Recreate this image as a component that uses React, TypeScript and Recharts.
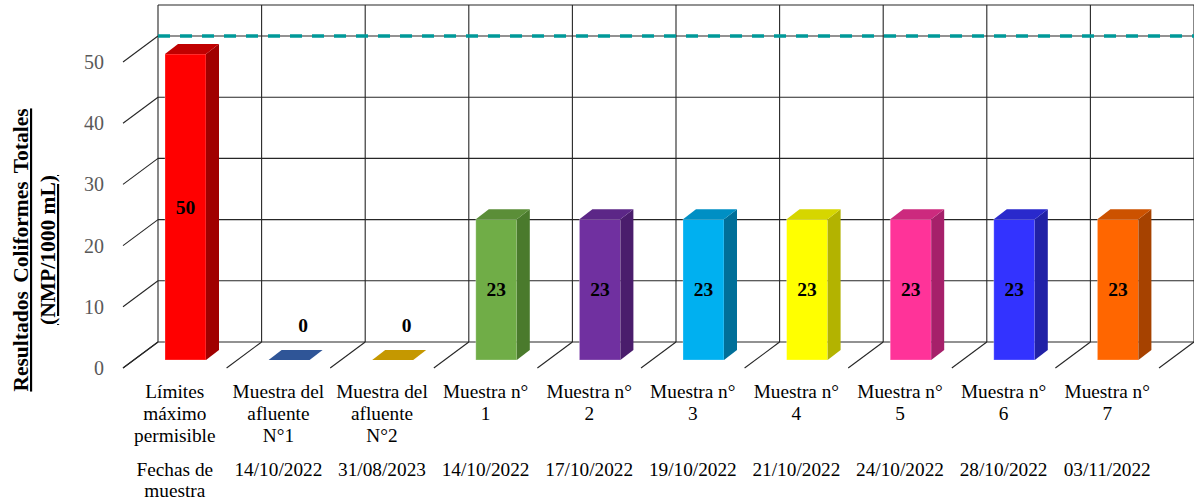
import { BarChart, Bar, XAxis, YAxis, CartesianGrid, ReferenceLine, LabelList, Cell } from 'recharts';

document.body.style.margin = '0';

const categories = [
  'Límites\nmáximo\npermisible',
  'Muestra del\nafluente\nN°1',
  'Muestra del\nafluente\nN°2',
  'Muestra n°\n1',
  'Muestra n°\n2',
  'Muestra n°\n3',
  'Muestra n°\n4',
  'Muestra n°\n5',
  'Muestra n°\n6',
  'Muestra n°\n7',
];
const fechas = [
  'Fechas de\nmuestra',
  '14/10/2022',
  '31/08/2023',
  '14/10/2022',
  '17/10/2022',
  '19/10/2022',
  '21/10/2022',
  '24/10/2022',
  '28/10/2022',
  '03/11/2022',
];
const valores = [50, 0, 0, 23, 23, 23, 23, 23, 23, 23];
const yTicks = [0, 10, 20, 30, 40, 50];
const limite = 50;

// front / side / top colours per bar
const colores = [
  ['#FF0000', '#A00000', '#C00000'],
  ['#2F5597', '#24447A', '#2F5597'],
  ['#BF9000', '#8F6C00', '#C59800'],
  ['#70AD47', '#4A7A2C', '#5B8E38'],
  ['#7030A0', '#4A1D6C', '#5C2787'],
  ['#00B0F0', '#006F99', '#008FC4'],
  ['#FFFF00', '#B3B300', '#D6D600'],
  ['#FF3399', '#A6206A', '#CC2A7E'],
  ['#3333FF', '#2121A6', '#2929CC'],
  ['#FF6600', '#A64200', '#CC5200'],
];

const data = categories.map((name, i) => ({ name, value: valores[i], fecha: fechas[i] }));

const W = 1194;
const H = 501;
const WALL_LEFT = 158;
const WALL_TOP = 5;
const WALL_BOTTOM = 342;
const BAND = (W - WALL_LEFT) / categories.length;
const Y_MAX = 55.07; // wall top, above the 50 line
// depth offsets
const AX_DX = -35;
const AX_DY = 26;
const BAR_DX = -24;
const BAR_DY = 18;
const SIDE_DX = 13;
const SIDE_DY = -10;

const serif = '"Liberation Serif", "Times New Roman", serif';
const gridColor = '#262626';

function Bar3D(props: any) {
  const { x, y, width, height, index } = props;
  const [front, side, top] = colores[index];
  const fx = x + BAR_DX;
  const fy = y + BAR_DY;
  const h = Math.max(0, height);
  return (
    <g>
      {h > 0 && <rect x={fx} y={fy} width={width} height={h} fill={front} stroke="rgba(255,255,255,0.35)" strokeWidth={0.8} />}
      {h > 0 && (
        <polygon
          points={`${fx + width},${fy} ${fx + width + SIDE_DX},${fy + SIDE_DY} ${fx + width + SIDE_DX},${fy + h + SIDE_DY} ${fx + width},${fy + h}`}
          fill={side}
        />
      )}
      <polygon
        points={`${fx},${fy} ${fx + SIDE_DX},${fy + SIDE_DY} ${fx + width + SIDE_DX},${fy + SIDE_DY} ${fx + width},${fy}`}
        fill={top}
      />
    </g>
  );
}

function ValueLabel(props: any) {
  const { x, y, width, height, value } = props;
  const cx = x + width / 2 + BAR_DX;
  let cy = y + height / 2 + BAR_DY;
  let tx = cx;
  if (!value) {
    tx = cx + 14;
    cy = y + BAR_DY - 35;
  }
  return (
    <text x={tx} y={cy} textAnchor="middle" dominantBaseline="central" fontFamily={serif} fontWeight="bold" fontSize={19.5} fill="#000">
      {value}
    </text>
  );
}

function CatTick(props: any) {
  const { x, index } = props;
  const lines = categories[index].split('\n');
  const fl = fechas[index].split('\n');
  const cx = x + AX_DX;
  const left = x - BAND / 2;
  return (
    <g>
      <line x1={left} y1={WALL_BOTTOM} x2={left + AX_DX} y2={WALL_BOTTOM + AX_DY} stroke={gridColor} strokeWidth={1.1} />
      {index === categories.length - 1 && (
        <line x1={left + BAND} y1={WALL_BOTTOM} x2={left + BAND + AX_DX} y2={WALL_BOTTOM + AX_DY} stroke={gridColor} strokeWidth={1.1} />
      )}
      <text textAnchor="middle" fontFamily={serif} fontSize={19.3} fill="#000">
        {lines.map((l, i) => (
          <tspan key={i} x={cx} y={398 + i * 22}>
            {l}
          </tspan>
        ))}
      </text>
      <text textAnchor="middle" fontFamily={serif} fontSize={19.3} fill="#000">
        {fl.map((l, i) => (
          <tspan key={i} x={cx} y={476 + i * 21}>
            {l}
          </tspan>
        ))}
      </text>
    </g>
  );
}

function ValTick(props: any) {
  const { y, payload } = props;
  return (
    <g>
      <line x1={WALL_LEFT} y1={y} x2={WALL_LEFT + AX_DX} y2={y + AX_DY} stroke={gridColor} strokeWidth={1.1} />
      <text x={104} y={y + AX_DY} textAnchor="end" dominantBaseline="central" fontFamily={serif} fontSize={20} fill="#595959">
        {payload.value}
      </text>
    </g>
  );
}

function AxisTitle() {
  return (
    <g fontFamily={serif} fontWeight="bold" fontSize={21.5} fill="#000" textDecoration="underline">
      <text x={0} y={0} transform="translate(28,250) rotate(-90)" textAnchor="middle" wordSpacing={3}>
        Resultados Coliformes Totales
      </text>
      <text x={0} y={0} transform="translate(55,250) rotate(-90)" textAnchor="middle">
        (NMP/1000 mL)
      </text>
    </g>
  );
}

export default function App() {
  return (
    <div style={{ width: W, height: H }}>
      <BarChart
        width={W}
        height={H}
        data={data}
        margin={{ top: WALL_TOP, right: 0, left: 0, bottom: 0 }}
      >
        <XAxis
          dataKey="name"
          height={H - WALL_BOTTOM}
          axisLine={false}
          tickLine={false}
          interval={0}
          tick={<CatTick />}
        />
        <YAxis
          width={WALL_LEFT}
          domain={[0, Y_MAX]}
          ticks={yTicks}
          axisLine={false}
          tickLine={false}
          tick={<ValTick />}
          label={<AxisTitle />}
        />
        <CartesianGrid
          stroke={gridColor}
          strokeWidth={1.1}
          verticalCoordinatesGenerator={({ offset }: any) =>
            categories.map((_, i) => offset.left + i * BAND).concat(offset.left + offset.width)
          }
        />
        <ReferenceLine y={limite} stroke="#009999" strokeWidth={3.5} strokeDasharray="12 10" />
        <Bar dataKey="value" barSize={41} shape={<Bar3D />} isAnimationActive={false}>
          {data.map((_, i) => (
            <Cell key={i} fill={colores[i][0]} />
          ))}
          <LabelList dataKey="value" content={<ValueLabel />} />
        </Bar>
      </BarChart>
    </div>
  );
}
